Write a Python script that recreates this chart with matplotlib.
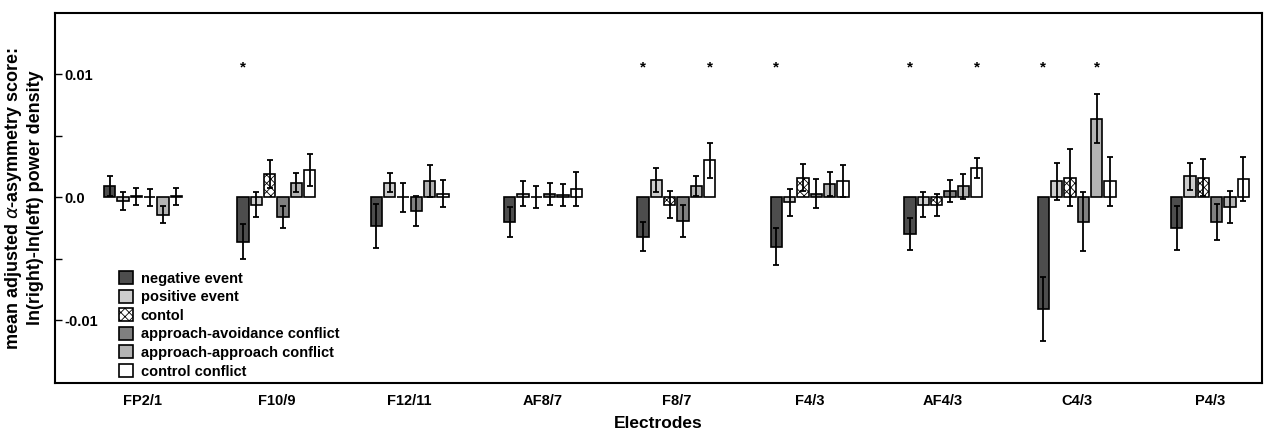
import numpy as np
import matplotlib.pyplot as plt

plt.rcParams['font.family'] = ['Liberation Sans', 'DejaVu Sans']
plt.rcParams['hatch.linewidth'] = 0.6

electrodes = ['FP2/1', 'F10/9', 'F12/11', 'AF8/7', 'F8/7', 'F4/3', 'AF4/3', 'C4/3', 'P4/3']
conditions = ['negative event', 'positive event', 'contol',
              'approach-avoidance conflict', 'approach-approach conflict', 'control conflict']

# mean values per condition (one entry per electrode)
negative_event = [0.0009, -0.0036, -0.0023, -0.0020, -0.0032, -0.0040, -0.0030, -0.0091, -0.0025]
positive_event = [-0.0003, -0.0006, 0.0012, 0.0003, 0.0014, -0.0004, -0.0006, 0.0013, 0.0017]
contol = [0.0001, 0.0019, 0.0000, 0.0000, -0.0006, 0.0016, -0.0006, 0.0016, 0.0016]
approach_avoidance = [0.0000, -0.0016, -0.0011, 0.0003, -0.0019, 0.0003, 0.0005, -0.0020, -0.0020]
approach_approach = [-0.0014, 0.0012, 0.0013, 0.0002, 0.0009, 0.0011, 0.0009, 0.0064, -0.0008]
control_conflict = [0.0001, 0.0022, 0.0003, 0.0007, 0.0030, 0.0013, 0.0024, 0.0013, 0.0015]

# standard errors
negative_event_err = [0.0008, 0.0014, 0.0018, 0.0012, 0.0012, 0.0015, 0.0013, 0.0026, 0.0018]
positive_event_err = [0.0007, 0.0010, 0.0008, 0.0010, 0.0010, 0.0011, 0.0010, 0.0015, 0.0011]
contol_err = [0.0007, 0.0011, 0.0012, 0.0009, 0.0011, 0.0011, 0.0009, 0.0023, 0.0015]
approach_avoidance_err = [0.0007, 0.0009, 0.0012, 0.0009, 0.0013, 0.0012, 0.0009, 0.0024, 0.0015]
approach_approach_err = [0.0007, 0.0008, 0.0013, 0.0009, 0.0008, 0.0010, 0.0010, 0.0020, 0.0013]
control_conflict_err = [0.0007, 0.0013, 0.0011, 0.0014, 0.0014, 0.0013, 0.0008, 0.0020, 0.0018]

# significant comparisons: (electrode index, condition index)
stars = [(1, 0), (4, 0), (4, 5), (5, 0), (6, 0), (6, 5), (7, 0), (7, 4)]
star_level = 0.0106

means = [negative_event, positive_event, contol, approach_avoidance, approach_approach, control_conflict]
errs = [negative_event_err, positive_event_err, contol_err, approach_avoidance_err,
        approach_approach_err, control_conflict_err]
colors = ['#4d4d4d', '#cccccc', 'white', '#7f7f7f', '#b3b3b3', 'white']
hatches = [None, None, 'xxxx', None, None, None]

fig = plt.figure(figsize=(12.76, 4.33), dpi=100)
ax = fig.add_axes([0.043, 0.1155, 0.946, 0.8545])

x = np.arange(len(electrodes))
step = 0.1
width = 0.085
offsets = (np.arange(6) - 2.5) * step

for i in range(6):
    ax.bar(x + offsets[i], means[i], width, color=colors[i], edgecolor='black',
           linewidth=1.2, hatch=hatches[i], label=conditions[i], zorder=2)
    ax.errorbar(x + offsets[i], means[i], yerr=errs[i], fmt='none', ecolor='black',
                elinewidth=1.3, capsize=2.5, capthick=1.3, zorder=3)

for g, c in stars:
    ax.text(x[g] + offsets[c], star_level, '*', ha='center', va='center',
            fontsize=11, fontweight='bold')

ax.set_xlim(-0.66, 8.39)
ax.set_ylim(-0.0151, 0.015)
ax.set_xticks(x)
ax.set_xticklabels(electrodes, fontsize=10.5, fontweight='bold')
ax.tick_params(axis='x', length=0, pad=8)
ax.set_yticks([-0.01, 0.0, 0.01])
ax.set_yticklabels(['-0.01', '0.0', '0.01'], fontsize=10.5, fontweight='bold')
ax.set_yticks([-0.005, 0.005], minor=True)
ax.tick_params(axis='y', which='both', direction='in', length=5, width=1)
ax.tick_params(axis='y', which='major', pad=-7)
for lbl in ax.get_yticklabels():
    lbl.set_horizontalalignment('left')
for sp in ax.spines.values():
    sp.set_linewidth(1.5)

ax.set_xlabel('Electrodes', fontsize=12.5, fontweight='bold', labelpad=6)
ax.set_ylabel('mean adjusted $\\alpha$-asymmetry score:\nln(right)-ln(left) power density',
              fontsize=13, fontweight='bold')
ax.yaxis.set_label_coords(-0.009, 0.5)

leg = ax.legend(loc='lower left', bbox_to_anchor=(0.053, 0.012), frameon=False,
                prop={'weight': 'bold', 'size': 10.5},
                handlelength=1.0, handleheight=1.0, handletextpad=0.5,
                labelspacing=0.28, borderpad=0, borderaxespad=0)

fig.savefig('out.png', dpi=100)
